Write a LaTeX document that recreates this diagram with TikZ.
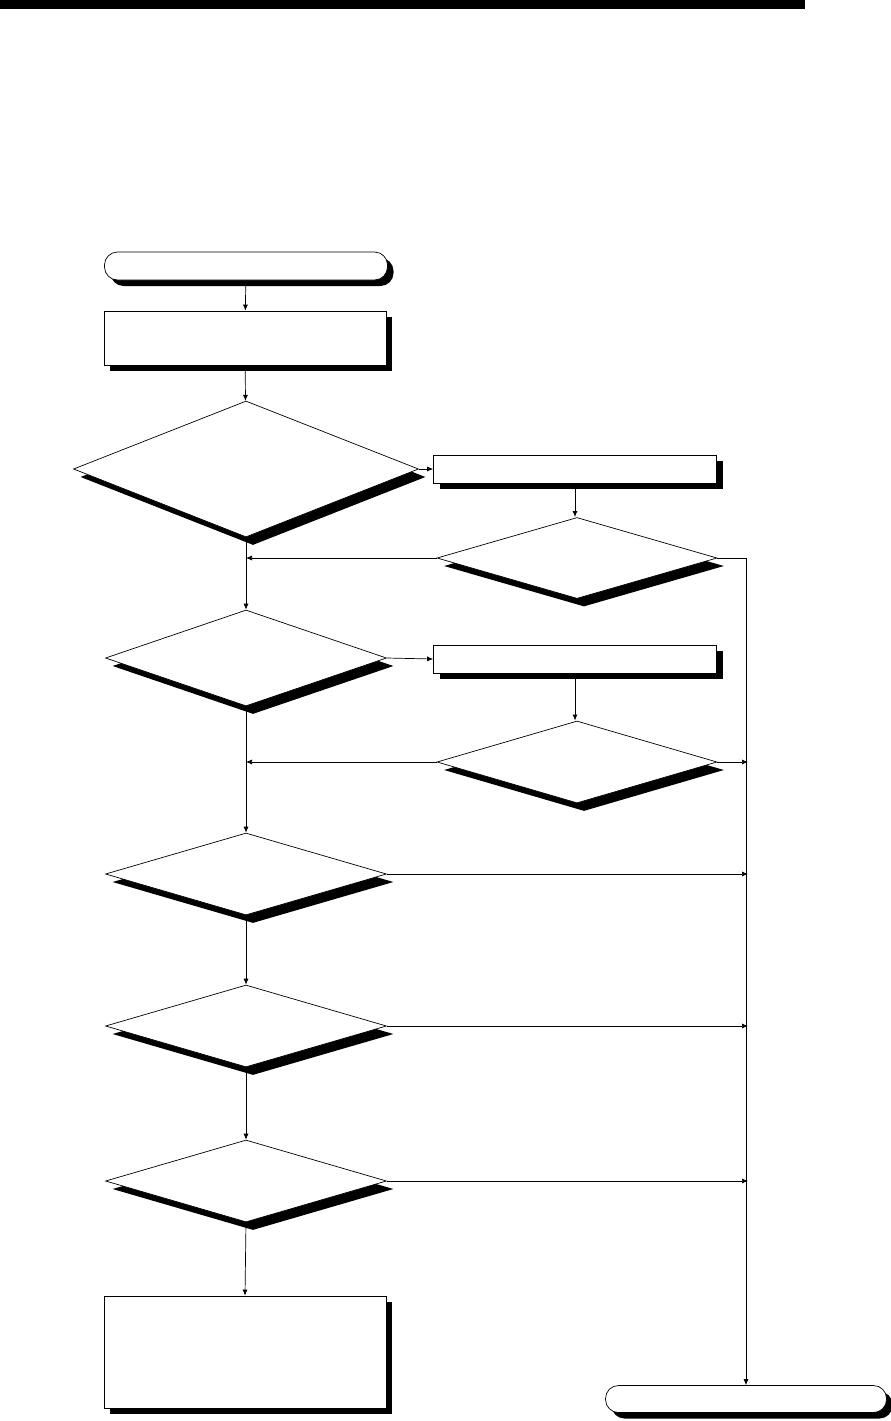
\documentclass[tikz,border=0pt]{standalone}
\usepackage{tikz}
\usetikzlibrary{shapes.geometric, shadows, arrows.meta}

\begin{document}
\begin{tikzpicture}[x=1pt, y=-1pt, line width=0.7pt,
		termBox/.style={draw, fill=white, rounded corners=13pt, inner sep=0pt, minimum width=283pt, minimum height=28pt,
			drop shadow={shadow xshift=6pt, shadow yshift=-6pt, fill=black, opacity=1}},
		procBox/.style={draw, fill=white, inner sep=0pt, minimum width=282pt,
			drop shadow={shadow xshift=6pt, shadow yshift=-6pt, fill=black, opacity=1}},
		decBox/.style={draw, fill=white, diamond, inner sep=0pt, minimum width=281pt, minimum height=82pt,
			drop shadow={shadow xshift=7pt, shadow yshift=-8pt, fill=black, opacity=1}},
		flowArrow/.style={-{Latex[length=6pt, width=5pt]}}]
			% Page frame and header bar
			\useasboundingbox (0, 0) rectangle (891, 1421);
			\fill (0, 0) rectangle (805, 9);
			
			% Main column
			\node[termBox] (start) at (246, 266) {};
			\node[procBox, minimum height=54pt] (init) at (245, 338) {};
			\node[decBox, minimum width=345pt, minimum height=136pt] (chkA) at (246, 469) {};
			\node[decBox, minimum height=96pt] (chkC) at (246, 658) {};
			\node[decBox] (chkE) at (246, 874) {};
			\node[decBox] (chkF) at (246, 1026) {};
			\node[decBox] (chkG) at (246, 1181) {};
			\node[procBox, minimum height=112pt] (done) at (245, 1352) {};
			
			% Side column
			\node[procBox, minimum width=283pt, minimum height=28pt] (setA) at (575, 469) {};
			\node[decBox, minimum width=280pt, minimum height=81pt] (chkB) at (577, 558) {};
			\node[procBox, minimum width=283pt, minimum height=28pt] (setC) at (575, 659) {};
			\node[decBox, minimum width=280pt] (chkD) at (577, 762) {};
			\node[termBox, minimum width=281pt, minimum height=27pt] (finish) at (746, 1399) {};
			
			% Join points on the trunk and on the right rail
			\coordinate (joinA) at (chkA.south |- chkB.west);
			\coordinate (joinC) at (chkC.south |- chkD.west);
			\coordinate (rail) at (748, 0);
			
			% Trunk
			\draw[flowArrow] (start) -- (init);
			\draw[flowArrow] (init) -- (chkA);
			\draw[flowArrow] (chkA.south) -- (chkC.north);
			\draw[flowArrow] (chkC.south) -- (chkE.north);
			\draw[flowArrow] (chkE.south) -- (chkF.north);
			\draw[flowArrow] (chkF.south) -- (chkG.north);
			\draw[flowArrow] (chkG.south) -- (done.north);
			
			% Branches to the right
			\draw[flowArrow] (chkA.east) -- (setA.west);
			\draw[flowArrow, line width=1pt] (setA.south) -- (setA.south |- chkB.north);
			\draw[flowArrow] (chkB.west) -- (joinA);
			\draw[flowArrow] (chkC.east) -- (setC.west);
			\draw[flowArrow, line width=1pt] (setC.south) -- (setC.south |- chkD.north);
			\draw[flowArrow] (chkD.west) -- (joinC);
			
			% Exits to the rail
			\draw[flowArrow] (chkB.east) -| (finish.north);
			\draw[flowArrow] (chkD.east) -- (rail |- chkD.east);
			\draw[flowArrow] (chkE.east) -- (rail |- chkE.east);
			\draw[flowArrow] (chkF.east) -- (rail |- chkF.east);
			\draw[flowArrow] (chkG.east) -- (rail |- chkG.east);
		\end{tikzpicture}
\end{document}
